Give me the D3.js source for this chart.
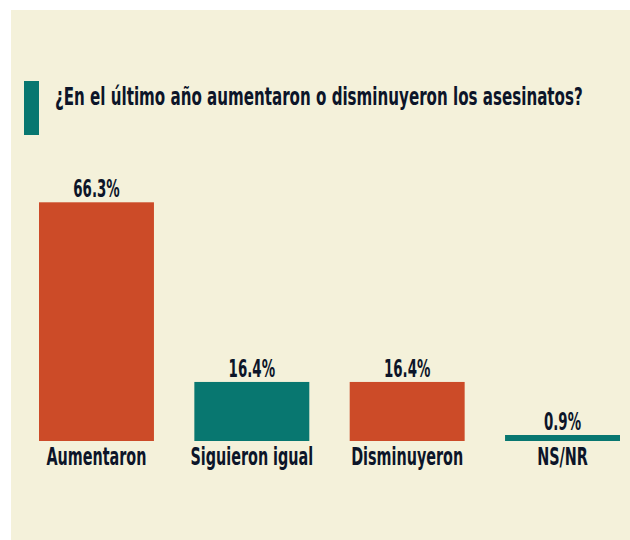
<!DOCTYPE html>
<html>
<head>
<meta charset="utf-8">
<script src="https://cdn.jsdelivr.net/npm/d3@7"></script>
<style>
  body { margin: 0; background: #fff; }
  text { font-family: "DejaVu Sans Condensed", "Liberation Sans Narrow", sans-serif; font-weight: bold; fill: #0c1529; }
</style>
</head>
<body>
<div id="box-div"></div>
<script>
// datos
const title = '¿En el último año aumentaron o disminuyeron los asesinatos?'
const categories = ['Aumentaron', 'Siguieron igual', 'Disminuyeron', 'NS/NR']
const values = [66.3, 16.4, 16.4, 0.9]
const barColors = ['#cc4b28', '#087770', '#cc4b28', '#087770']

const dms = {
    width: 630,
    height: 540,
    panel: { x: 11, y: 10 },
    chart: { left: 39, right: 620, top: 202.3, base: 441 }
}

const svg = d3.select('#box-div').append('svg')
    .attr('width', dms.width)
    .attr('height', dms.height)

// fondo crema
svg.append('rect')
    .attr('x', dms.panel.x)
    .attr('y', dms.panel.y)
    .attr('width', dms.width - dms.panel.x)
    .attr('height', dms.height - dms.panel.y)
    .attr('fill', '#f4f1da')

// barra del titulo
svg.append('rect')
    .attr('x', 24)
    .attr('y', 81)
    .attr('width', 15)
    .attr('height', 54)
    .attr('fill', '#087770')

// texto comprimido horizontalmente (imita una DIN condensada)
const squeezed = (x, y, k) => `translate(${x}, ${y}) scale(${k}, 1)`

svg.append('text')
    .attr('transform', squeezed(55, 105, 0.70))
    .style('font-size', '24px')
    .text(title)

const xScale = d3.scaleBand()
    .domain(categories)
    .range([dms.chart.left, dms.chart.right])
    .paddingInner(0.26)
    .paddingOuter(0)

const yScale = d3.scaleLinear()
    .domain([0, d3.max(values)])
    .range([dms.chart.base, dms.chart.top])

const data = categories.map((c, i) => ({ cat: c, value: values[i], color: barColors[i] }))
const minH = 6
const barTop = d => Math.min(yScale(d.value), yScale(0) - minH)
const cx = d => xScale(d.cat) + xScale.bandwidth() / 2

const content = svg.append('g')

content.selectAll('.bar')
    .data(data)
    .enter()
    .append('rect')
    .attr('class', 'bar')
    .attr('x', d => xScale(d.cat))
    .attr('y', d => barTop(d))
    .attr('width', xScale.bandwidth())
    .attr('height', d => yScale(0) - barTop(d))
    .attr('fill', d => d.color)

// etiquetas de valor
content.selectAll('.val')
    .data(data)
    .enter()
    .append('text')
    .attr('class', 'val')
    .attr('transform', d => squeezed(cx(d), barTop(d) - 5, 0.62))
    .attr('text-anchor', 'middle')
    .style('font-size', '24px')
    .text(d => d.value.toFixed(1) + '%')

// etiquetas de categoria
content.selectAll('.cat')
    .data(data)
    .enter()
    .append('text')
    .attr('class', 'cat')
    .attr('transform', d => squeezed(cx(d), yScale(0) + 24, 0.665))
    .attr('text-anchor', 'middle')
    .style('font-size', '24px')
    .text(d => d.cat)
</script>
</body>
</html>
